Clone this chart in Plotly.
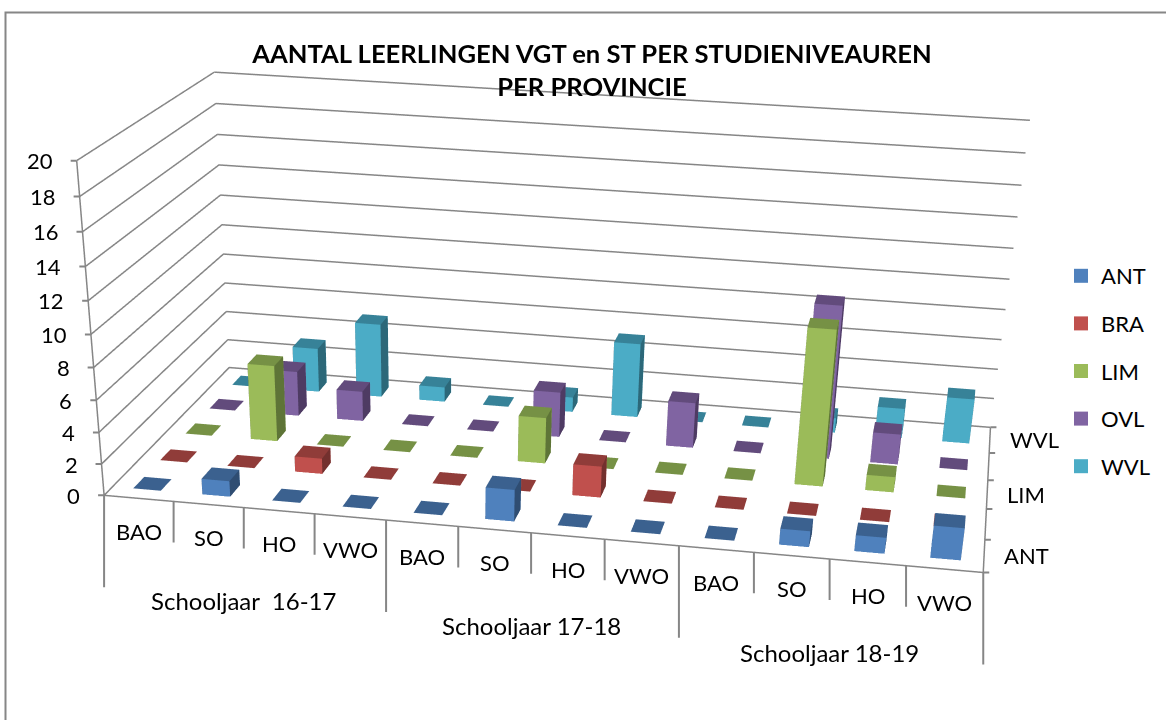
import plotly.graph_objects as go

LEVELS = ["BAO", "SO", "HO", "VWO"] * 3
YEARS = ["Schooljaar  16-17", "Schooljaar 17-18", "Schooljaar 18-19"]
ANT = [0, 1, 0, 0, 0, 2, 0, 0, 0, 1, 1, 2]
BRA = [0, 0, 1, 0, 0, 0, 2, 0, 0, 0, 0, 0]
LIM = [0, 5, 0, 0, 0, 3, 0, 0, 0, 10, 1, 0]
OVL = [0, 3, 2, 0, 0, 3, 0, 3, 0, 10, 2, 0]
WVL = [0, 3, 5, 1, 0, 1, 5, 0, 0, 1, 2, 3]
NAMES = ["ANT", "BRA", "LIM", "OVL", "WVL"]
SERIES = [ANT, BRA, LIM, OVL, WVL]
ZTICKS = list(range(0, 21, 2))

COL = ["#4F81BD", "#C0504D", "#9BBB59", "#8064A2", "#4BACC6"]
CAP = ["#3B618F", "#903C39", "#769145", "#624B7C", "#378298"]
SIDE = ["#2F4D72", "#73302E", "#5E7437", "#4E3B63", "#2C6879"]
GRID = "#868686"

# The scene is taller than the window so that the weak perspective of the original fits.
H = 1900
PX = 530.0
xdom = [0, 2 * PX / 1166]

fig = go.Figure()
for si, (vals, name) in enumerate(zip(SERIES, NAMES)):
    X, Y, Z, I, J, K, FC = [], [], [], [], [], [], []
    for k, v in enumerate(vals):
        x0, x1 = k + .3, k + .7
        y0, y1 = si + .3, si + .7
        n = len(X)
        for a, b, c in [(x0, y0, 0), (x1, y0, 0), (x1, y1, 0), (x0, y1, 0),
                        (x0, y0, v), (x1, y0, v), (x1, y1, v), (x0, y1, v)]:
            X.append(a); Y.append(b); Z.append(c)
        faces = [(0, 1, 5, COL), (0, 5, 4, COL), (1, 2, 6, SIDE), (1, 6, 5, SIDE),
                 (0, 3, 7, SIDE), (0, 7, 4, SIDE), (3, 2, 6, COL), (3, 6, 7, COL),
                 (4, 5, 6, CAP), (4, 6, 7, CAP)]
        for a, b, c, cc in faces:
            I.append(n + a); J.append(n + b); K.append(n + c); FC.append(cc[si])
    fig.add_trace(go.Mesh3d(x=X, y=Y, z=Z, i=I, j=J, k=K, facecolor=FC, flatshading=True,
                            showlegend=False, hoverinfo="skip",
                            lighting=dict(ambient=1, diffuse=0, specular=0, fresnel=0, roughness=1)))

for z in ZTICKS:
    fig.add_trace(go.Scatter3d(x=[0, 0, 12], y=[0, 5, 5], z=[z, z, z], mode="lines",
                               line=dict(color=GRID, width=3), showlegend=False, hoverinfo="skip"))
fig.add_trace(go.Scatter3d(x=[0, 0, None, 0, 12, 12], y=[0, 0, None, 0, 0, 5], z=[0, 20, None, 0, 0, 0],
                           mode="lines", line=dict(color=GRID, width=3), showlegend=False, hoverinfo="skip"))
for si, name in enumerate(NAMES):
    fig.add_trace(go.Scatter3d(x=[None], y=[None], z=[None], mode="markers", name=name, legendgroup=name,
                               marker=dict(symbol="square", size=14, color=COL[si])))

FONT = dict(family="Lato", size=22, color="#000")
FONT_GROUP = dict(family="Lato", size=24, color="#000")
ann = []


def tick(x, y, z, ax, ay):
    ann.append(dict(x=x, y=y, z=z, text=" ", showarrow=True, arrowhead=0, arrowwidth=2,
                    arrowcolor=GRID, ax=ax, ay=ay, standoff=0))


for k in range(13):
    tick(k, 0, 0, 0, 102 if k % 4 == 0 else 51)
for k, t in enumerate(LEVELS):
    ann.append(dict(x=k + .5, y=0, z=0, text=t, showarrow=False, yshift=-33, font=FONT))
for g, t in enumerate(YEARS):
    ann.append(dict(x=g * 4 + 2, y=0, z=0, text=t, showarrow=False, yshift=-93, font=FONT_GROUP))
for z in ZTICKS:
    tick(0, 0, z, -9, 0)
    ann.append(dict(x=0, y=0, z=z, text=str(z), showarrow=False, xanchor="right", xshift=-22, font=FONT))
for y in range(6):
    tick(12, y, 0, 9, 0)
for i in (0, 2, 4):
    ann.append(dict(x=12, y=i + .5, z=0, text=NAMES[i], showarrow=False, xanchor="left", xshift=18, font=FONT))

ax = dict(visible=False, showspikes=False)
fig.update_layout(
    width=1166, height=H, margin=dict(l=0, r=0, t=0, b=0), paper_bgcolor="white",
    title=dict(text="<b>AANTAL LEERLINGEN VGT en ST PER STUDIENIVEAUREN<br>PER PROVINCIE</b>",
               x=592 / 1166, xanchor="center", y=1 - 63 / H, yanchor="middle",
               font=dict(family="Lato", size=25.6, color="#000")),
    legend=dict(x=1061 / 1166, xanchor="left", y=1 - 255 / H, yanchor="top", font=FONT,
                tracegroupgap=16, itemclick=False, itemdoubleclick=False),
    scene=dict(domain=dict(x=xdom, y=[0, 1]),
               xaxis=dict(range=[0, 12], **ax), yaxis=dict(range=[0, 5], **ax), zaxis=dict(range=[0, 20], **ax),
               aspectmode="manual", aspectratio=dict(x=1, y=0.4893, z=0.3734),
               camera=dict(eye=dict(x=0.4281, y=-2.6351, z=0.7642),
                           center=dict(x=0.1052, y=-0.7911, z=-0.3916),
                           up=dict(x=-0.0094, y=-0.0548, z=1),
                           projection=dict(type="perspective")),
               annotations=ann),
    shapes=[dict(type="rect", xref="paper", yref="paper", x0=5.5 / 1166, x1=1.01, y0=-0.01, y1=1 - 12.5 / H,
                 line=dict(color=GRID, width=2))],
)
fig.write_html("out.html", config={"displayModeBar": False},
               post_script="document.body.style.margin='0';document.documentElement.style.overflow='hidden';document.body.style.overflow='hidden';")
